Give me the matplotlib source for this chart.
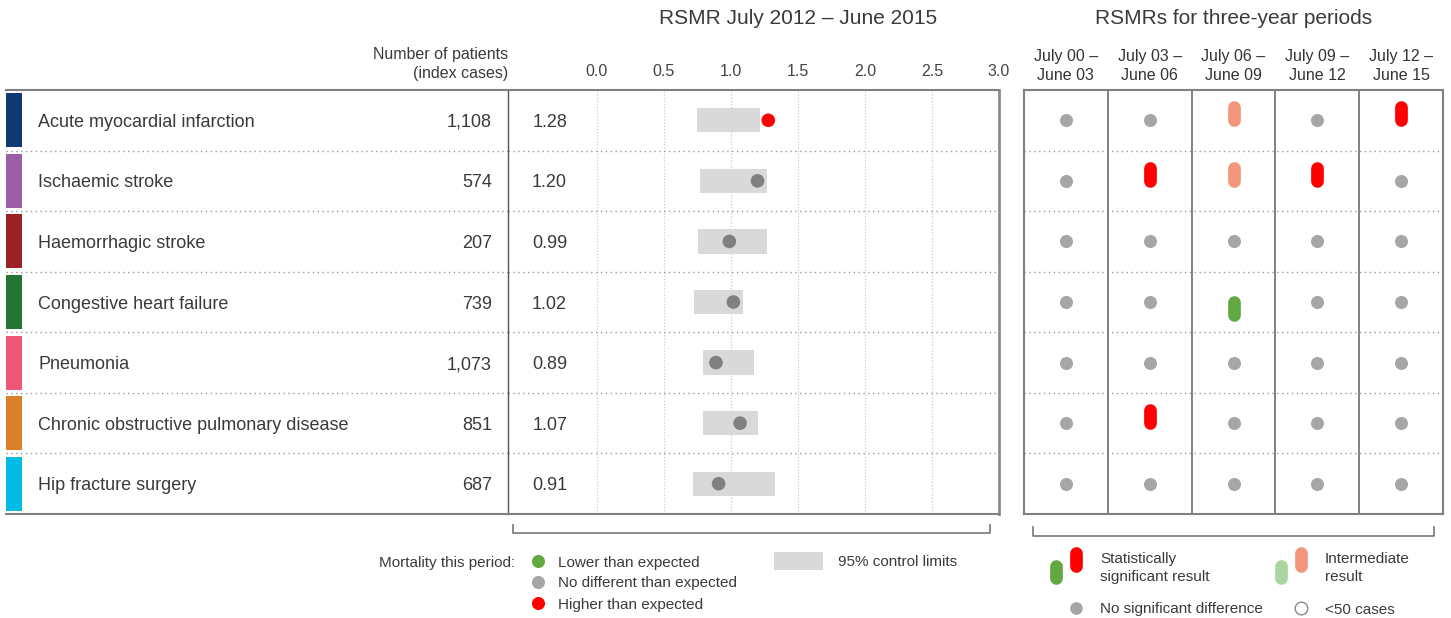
import numpy as np
import matplotlib
matplotlib.use('Agg')
import matplotlib.pyplot as plt
import matplotlib.transforms as mtransforms

plt.rcParams['font.family'] = ['Liberation Sans', 'DejaVu Sans']
plt.rcParams['text.color'] = '#3a3a3a'

# ---- data ----
conditions = ['Acute myocardial infarction', 'Ischaemic stroke', 'Haemorrhagic stroke',
              'Congestive heart failure', 'Pneumonia',
              'Chronic obstructive pulmonary disease', 'Hip fracture surgery']
cond_colors = ['#0d3a73', '#9b5ea8', '#9a2226', '#237533', '#ee5676', '#db8028', '#00bae5']
patients = ['1,108', '574', '207', '739', '1,073', '851', '687']
rsmr = [1.28, 1.20, 0.99, 1.02, 0.89, 1.07, 0.91]
limit_lo = [0.75, 0.77, 0.76, 0.73, 0.79, 0.79, 0.72]
limit_hi = [1.22, 1.27, 1.27, 1.09, 1.17, 1.20, 1.33]
rsmr_status = ['high', 'none', 'none', 'none', 'none', 'none', 'none']

periods = ['July 00 –\nJune 03', 'July 03 –\nJune 06', 'July 06 –\nJune 09',
           'July 09 –\nJune 12', 'July 12 –\nJune 15']
# H = significantly higher, L = significantly lower, h = intermediate higher, N = no difference
period_status = [
    ['N', 'N', 'h', 'N', 'H'],
    ['N', 'H', 'h', 'H', 'N'],
    ['N', 'N', 'N', 'N', 'N'],
    ['N', 'N', 'L', 'N', 'N'],
    ['N', 'N', 'N', 'N', 'N'],
    ['N', 'H', 'N', 'N', 'N'],
    ['N', 'N', 'N', 'N', 'N'],
]

RED = '#ff0000'
SALMON = '#f4967a'
GREEN = '#62a843'
LGREEN = '#a8d5a0'
GREY_DOT = '#a6a6a6'
MID_DOT = '#808080'
BAR = '#d9d9d9'
LINE = '#808080'

W, H = 1451, 618


def box(x0, y0, x1, y1):
    return [x0 / W, 1 - y1 / H, (x1 - x0) / W, (y1 - y0) / H]


fig = plt.figure(figsize=(W / 100, H / 100), dpi=100)
rows = np.arange(len(conditions))
row_px = (514 - 90) / len(conditions)

# ---- left table ----
axl = fig.add_axes(box(6, 90, 508, 514))
axl.set_xlim(6, 508)
axl.set_ylim(len(conditions) - 0.5, -0.5)
axl.barh(rows, 16, left=6, height=0.89, color=cond_colors)
for i in rows:
    axl.text(38, i, conditions[i], fontsize=13, va='center_baseline', ha='left')
    axl.text(492, i, patients[i], fontsize=13, va='center_baseline', ha='right')
for b in rows[:-1] + 0.5:
    axl.axhline(b, color='#999999', lw=1, ls=(0, (1, 2.5)))
axl.set_xticks([])
axl.set_yticks([])
for s in ['left', 'right']:
    axl.spines[s].set_visible(False)
for s in ['top', 'bottom']:
    axl.spines[s].set_color(LINE)
    axl.spines[s].set_linewidth(1.5)
axl.text(508, (514 - 64) / 424, 'Number of patients\n(index cases)', fontsize=11.5,
         ha='right', va='center', multialignment='right', linespacing=1.35,
         transform=mtransforms.blended_transform_factory(axl.transData, axl.transAxes))

# ---- middle RSMR panel ----
axm = fig.add_axes(box(508, 90, 999, 514))
axm.set_xlim(-0.66, 3.0)
axm.set_ylim(len(conditions) - 0.5, -0.5)
for g in np.arange(0, 3.0, 0.5):
    axm.axvline(g, color='#cccccc', lw=0.9, ls=(0, (1, 1.5)), zorder=0)
for b in rows[:-1] + 0.5:
    axm.axhline(b, color='#999999', lw=1, ls=(0, (1, 2.5)), zorder=1)
axm.barh(rows, np.array(limit_hi) - np.array(limit_lo), left=limit_lo, height=0.4,
         color=BAR, zorder=2)
dot_cols = [RED if s == 'high' else (GREEN if s == 'low' else MID_DOT) for s in rsmr_status]
axm.scatter(rsmr, rows, s=9.8 ** 2, color=dot_cols, zorder=3, linewidths=0)
for i in rows:
    axm.text(-0.35, i, f'{rsmr[i]:.2f}', fontsize=13, ha='center', va='center_baseline')
axm.xaxis.tick_top()
axm.set_xticks(np.arange(0, 3.01, 0.5))
axm.set_xticklabels([f'{t:.1f}' for t in np.arange(0, 3.01, 0.5)])
axm.tick_params(axis='x', length=0, pad=8, labelsize=11.5, labelcolor='#444444')
axm.set_yticks([])
axm.spines['left'].set_color('#555555')
axm.spines['left'].set_linewidth(1)
for s in ['top', 'bottom']:
    axm.spines[s].set_color(LINE)
    axm.spines[s].set_linewidth(1.5)
axm.spines['right'].set_color('#8c8c8c')
axm.spines['right'].set_linewidth(2)
bt = mtransforms.blended_transform_factory(axm.transData, axm.transAxes)
axm.text(1.5, (514 - 18) / 424, 'RSMR July 2012 – June 2015', fontsize=15,
         ha='center', va='center', transform=bt)
# bracket under the middle panel
yb, yt = (514 - 533) / 424, (514 - 525) / 424
axm.plot([0.0102, 0.0102, 0.9817, 0.9817], [yt, yb, yb, yt], color='#777777', lw=1.2,
         transform=axm.transAxes, clip_on=False)

# ---- right three-year periods panel ----
axr = fig.add_axes(box(1024, 90, 1443, 514))
axr.set_xlim(-0.5, len(periods) - 0.5)
axr.set_ylim(len(conditions) - 0.5, -0.5)
for b in rows[:-1] + 0.5:
    axr.axhline(b, color='#999999', lw=1, ls=(0, (1, 2.5)), zorder=1)
for v in np.arange(len(periods) - 1) + 0.5:
    axr.axvline(v, color='#777777', lw=1.3, zorder=2)
shift = 6.5 / row_px
half = 6.3 / row_px
pill_lw = 12.7 * 0.72
for i, row in enumerate(period_status):
    for j, st in enumerate(row):
        if st == 'N':
            axr.scatter([j], [i], s=9.4 ** 2, color=GREY_DOT, linewidths=0, zorder=3)
        else:
            col = {'H': RED, 'h': SALMON, 'L': GREEN, 'l': LGREEN}[st]
            yc = i - shift if st in 'Hh' else i + shift
            axr.plot([j, j], [yc - half, yc + half], color=col, lw=pill_lw,
                     solid_capstyle='round', zorder=3)
axr.xaxis.tick_top()
axr.set_xticks(np.arange(len(periods)))
axr.set_xticklabels(periods, linespacing=1.3)
axr.tick_params(axis='x', length=0, pad=5, labelsize=11.5, labelcolor='#333333')
axr.set_yticks([])
for s in axr.spines.values():
    s.set_color(LINE)
    s.set_linewidth(1.5)
axr.set_title('RSMRs for three-year periods', fontsize=15, pad=0, y=(514 - 18) / 424,
              va='center')
yb, yt = (514 - 536) / 424, (514 - 527) / 424
axr.plot([0.0215, 0.0215, 0.9785, 0.9785], [yt, yb, yb, yt], color='#777777', lw=1.2,
         transform=axr.transAxes, clip_on=False)

# ---- legends (pixel-space overlay) ----
axg = fig.add_axes([0, 0, 1, 1], zorder=-1)
axg.set_xlim(0, W)
axg.set_ylim(H, 0)
axg.axis('off')
fs = 11
axg.text(515, 561, 'Mortality this period:', fontsize=fs, ha='right', va='center_baseline')
for yy, c, lab in [(561, GREEN, 'Lower than expected'),
                   (582, GREY_DOT, 'No different than expected'),
                   (603, RED, 'Higher than expected')]:
    axg.scatter([538], [yy], s=9.4 ** 2, color=c, linewidths=0)
    axg.text(558, yy, lab, fontsize=fs, va='center_baseline')
axg.add_patch(plt.Rectangle((774, 552), 49, 18, color=BAR, lw=0))
axg.text(838, 561, '95% control limits', fontsize=fs, va='center_baseline')

for xc, yc, c in [(1056, 572, GREEN), (1075.5, 559.5, RED),
                  (1281, 572, LGREEN), (1301, 559.5, SALMON)]:
    axg.plot([xc, xc], [yc - 6.3, yc + 6.3], color=c, lw=pill_lw, solid_capstyle='round')
axg.text(1100, 568, 'Statistically\nsignificant result', fontsize=fs, va='center',
         linespacing=1.3)
axg.text(1325, 568, 'Intermediate\nresult', fontsize=fs, va='center', linespacing=1.3)
axg.scatter([1075.5], [608], s=9.1 ** 2, color=GREY_DOT, linewidths=0)
axg.text(1100, 608, 'No significant difference', fontsize=fs, va='center_baseline')
axg.scatter([1301], [608], s=9.1 ** 2, facecolor='white', edgecolor='#888888', linewidths=1)
axg.text(1325, 608, '<50 cases', fontsize=fs, va='center_baseline')

fig.savefig('out.png', dpi=100)
